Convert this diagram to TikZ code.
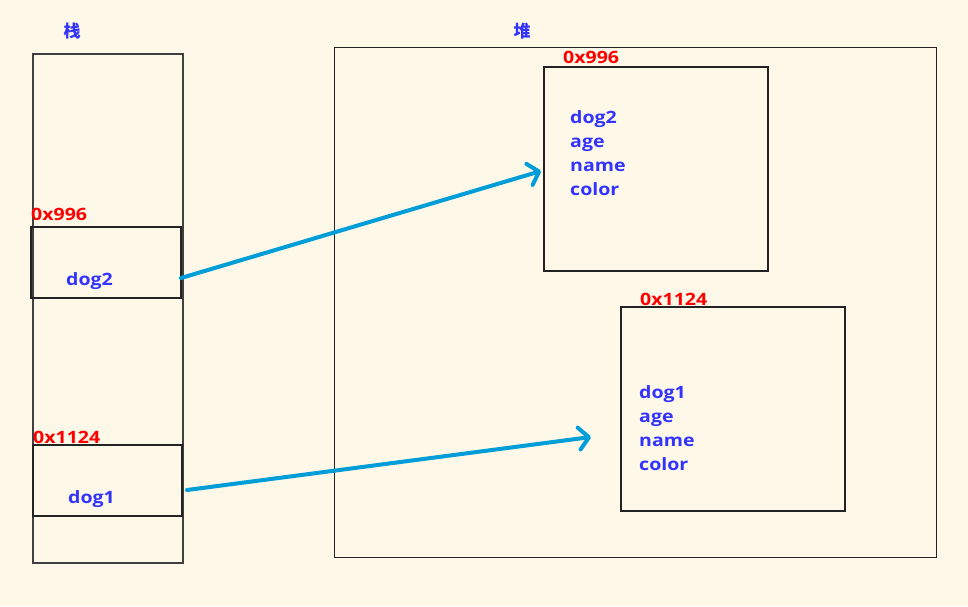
\documentclass[tikz,border=0pt]{standalone}
\usepackage{fontspec}
\setmainfont{Open Sans}[FakeStretch=1.15]
\newfontfamily\cjk{Noto Sans CJK SC}
\usetikzlibrary{arrows.meta,calc}
\definecolor{bg}{RGB}{253,248,231}
\definecolor{lblue}{RGB}{51,51,255}
\definecolor{lred}{RGB}{255,0,0}
\definecolor{arr}{RGB}{0,158,216}
\definecolor{frame}{RGB}{35,35,35}
\tikzset{
  box/.style={draw=frame, line width=1.2pt, anchor=north west, inner sep=0pt, outer sep=0pt},
  bluetxt/.style={text=lblue, font=\fontsize{17}{20}\selectfont\bfseries, anchor=base west, inner sep=0pt},
  redtxt/.style={text=lred, font=\fontsize{17}{20}\selectfont\bfseries, anchor=base west, inner sep=0pt},
  cjktxt/.style={text=lblue, font=\fontsize{17}{20}\selectfont\cjk\bfseries, inner sep=0pt},
  conn/.style={draw=arr, line width=4pt, line cap=round, -{Straight Barb[length=10pt,width=22pt,round]}}
}
\begin{document}
\begin{tikzpicture}[x=1pt,y=-1pt]
\fill[bg] (0,0) rectangle (968,606);
\useasboundingbox (0,0) rectangle (968,606);
% stack
\node[box, line width=1.5pt, draw=black!75, minimum width=150pt, minimum height=509pt] (stack) at (33,54) {};
\node[box, minimum width=150pt, minimum height=71pt] (c2) at (31,227) {};
\node[box, minimum width=149pt, minimum height=71pt] (c1) at (33,445) {};
% heap
\node[box, line width=1pt, minimum width=602pt, minimum height=510pt] (heap) at (334,47) {};
\node[box, minimum width=224pt, minimum height=204pt] (h1) at (544,67) {};
\node[box, minimum width=224pt, minimum height=204pt] (h2) at (621,307) {};
% titles
\node[cjktxt] (tstack) at (72,31) {栈};
\node[cjktxt] (theap) at (522,31) {堆};
% red addresses
\node[redtxt] (a1) at (31,220) {0x996};
\node[redtxt] (a2) at (33,443) {0x1124};
\node[redtxt] (a3) at (563,63) {0x996};
\node[redtxt] (a4) at (640,305) {0x1124};
% stack texts
\node[bluetxt] (s2) at (66,285) {dog2};
\node[bluetxt] (s1) at (68,503) {dog1};
% heap texts
\node[bluetxt] (h1a) at (570,123) {dog2};
\node[bluetxt] (h1b) at (570,147) {age};
\node[bluetxt] (h1c) at (570,171) {name};
\node[bluetxt] (h1d) at (570,195) {color};
\node[bluetxt] (h2a) at (639,398) {dog1};
\node[bluetxt] (h2b) at (639,422) {age};
\node[bluetxt] (h2c) at (639,446) {name};
\node[bluetxt] (h2d) at (639,470) {color};
% connectors
\draw[conn] ($(c2.east)+(0,15.5)$) -- ($(h1.north west)+(-3,104)$);
\draw[conn] ($(c1.east)+(5,9.5)$) -- ($(h2.north west)+(-30,130)$);
\end{tikzpicture}
\end{document}
